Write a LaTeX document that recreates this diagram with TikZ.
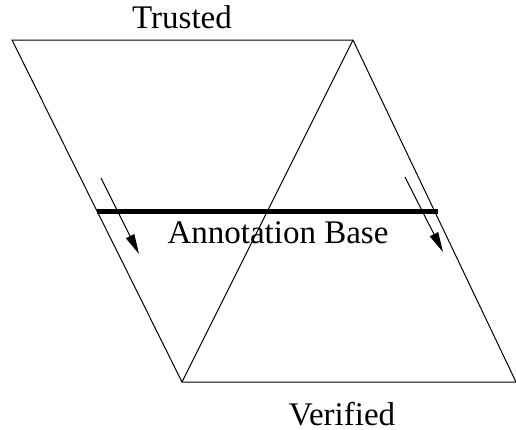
\documentclass[tikz,border=0pt]{standalone}
\usepackage{fontspec}
\setmainfont{Liberation Serif}
\usetikzlibrary{arrows.meta, positioning}

\begin{document}
\begin{tikzpicture}[x=0.5pt, y=-0.5pt, line width=0.5pt,
        lbl/.style={anchor=base, inner sep=0pt, font=\fontsize{16.5}{19}\selectfont},
        flow/.style={-{Triangle[length=10pt, width=4.6pt]}}]
        \useasboundingbox (0,0) rectangle (516,430);
        % Ecken
        \coordinate (tl) at (12,40);
        \coordinate (tr) at (353,40);
        \coordinate (br) at (516,382);
        \coordinate (bl) at (182,382);
        \draw (tl) -- (tr) -- (br) -- (bl) -- cycle;
        \draw (tr) -- (bl);

        % Basis
        \coordinate (b1) at (97,211);
        \coordinate (b2) at (438,211);
        \draw[line width=2.5pt] (b1) -- (b2);

        % Pfeile
        \coordinate (a1) at (101,178);
        \coordinate (a2) at (139,254);
        \coordinate (c1) at (405,177);
        \coordinate (c2) at (443,252);
        \draw[flow] (a1) -- (a2);
        \draw[flow] (c1) -- (c2);

        % Texte
        \node[lbl] (trusted) at (182,28) {Trusted};
        \node[lbl] (base) at (278,243) {Annotation Base};
        \node[lbl] (verified) at (342,425) {Verified};
    \end{tikzpicture}
\end{document}
